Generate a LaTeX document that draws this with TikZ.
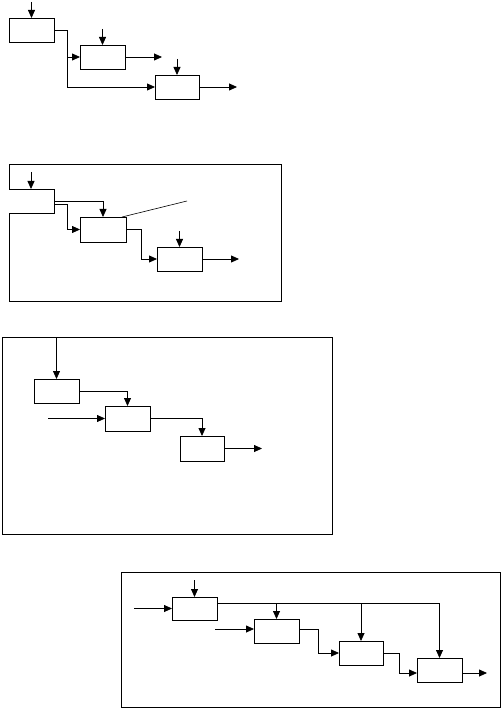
\documentclass[tikz,border=0pt]{standalone}
\usetikzlibrary{arrows.meta}
\begin{document}
\begin{tikzpicture}[x=1pt,y=-1pt,line width=0.8pt,
  box/.style={draw,inner sep=0pt,outer sep=0pt,anchor=north west,minimum width=45pt,minimum height=24pt},
  arr/.style={-{Triangle[length=8pt,width=7pt]}}]
\useasboundingbox (0,0) rectangle (502,708);
% ---------- diagram 1
\node[box] (a1) at (9,18) {};
\node[box] (b1) at (80,45) {};
\node[box,minimum width=44pt] (c1) at (155,75) {};
\coordinate (a1t) at (31.5,2);
\draw[arr] (a1t) -- (a1.north);
\coordinate (b1t) at (102.5,29);
\draw[arr] (b1t) -- (b1.north);
\coordinate (c1t) at (177,59);
\draw[arr] (c1t) -- (c1.north);
\draw[arr] (a1.east) -- ++(13,0) |- (b1.west);
\draw[arr] (a1.east) -- ++(13,0) |- (c1.west);
\coordinate (b1o) at (162,57);
\draw[arr] (b1.east) -- (b1o);
\coordinate (c1o) at (237,87);
\draw[arr] (c1.east) -- (c1o);
% ---------- diagram 2
\draw (9,189) -- (9,164) -- (281,164) -- (281,301) -- (9,301) -- (9,213) -- (54,213) -- (54,189) -- cycle;
\coordinate (a2t) at (31,172);
\coordinate (a2n) at (31,189);
\draw[arr] (a2t) -- (a2n);
\node[box,minimum width=46pt,minimum height=25pt] (b2) at (80,217) {};
\node[box,minimum height=24pt] (c2) at (157,247) {};
\coordinate (a2e1) at (54,201);
\coordinate (a2e2) at (54,204);
\draw[arr] (a2e1) -| (b2.north);
\draw[arr] (a2e2) -- ++(13,0) |- (b2.west);
\coordinate (d2) at (187,201);
\draw[line width=0.6pt] ([xshift=-4pt]b2.north east) -- (d2);
\draw[arr] (b2.east) -- ++(15,0) |- (c2.west);
\coordinate (c2t) at (179.5,231);
\draw[arr] (c2t) -- (c2.north);
\coordinate (c2o) at (239,259);
\draw[arr] (c2.east) -- (c2o);
% ---------- diagram 3
\draw (2,337) rectangle (332,534);
\node[box] (a3) at (34,379) {};
\node[box,minimum height=25pt] (b3) at (105,406) {};
\node[box,minimum width=44pt,minimum height=25pt] (c3) at (180,436) {};
\coordinate (a3t) at (56.5,337);
\draw[arr] (a3t) -- (a3.north);
\draw[arr] (a3.east) -| (b3.north);
\coordinate (b3i) at (48,418.5);
\draw[arr] (b3i) -- (b3.west);
\draw[arr] (b3.east) -| (c3.north);
\coordinate (c3o) at (262,448.5);
\draw[arr] (c3.east) -- (c3o);
% ---------- diagram 4
\draw (121,572) rectangle (500,707);
\node[box,minimum height=23pt] (a4) at (172,597) {};
\node[box] (b4) at (254,619) {};
\node[box,minimum width=44pt] (c4) at (339,641) {};
\node[box] (d4) at (417,658) {};
\coordinate (a4t) at (194.5,580);
\draw[arr] (a4t) -- (a4.north);
\coordinate (a4i) at (134,608.5);
\draw[arr] (a4i) -- (a4.west);
\coordinate (a4o) at ([yshift=5.5pt]a4.east);
\draw[arr] (a4o) -| (d4.north);
\draw[arr] (b4.north |- a4o) -- (b4.north);
\draw[arr] (c4.north |- a4o) -- (c4.north);
\coordinate (b4i) at (215,629);
\draw[arr] (b4i) -- (b4.west |- b4i);
\draw[arr] (b4.east |- b4i) -- ++(19,0) |- (c4.west);
\coordinate (d4w) at ([yshift=-3pt]d4.west);
\draw[arr] (c4.east) -- ++(16,0) |- (d4w);
\coordinate (d4o) at (487,673);
\draw[arr] (d4.east |- d4o) -- (d4o);
\end{tikzpicture}
\end{document}
